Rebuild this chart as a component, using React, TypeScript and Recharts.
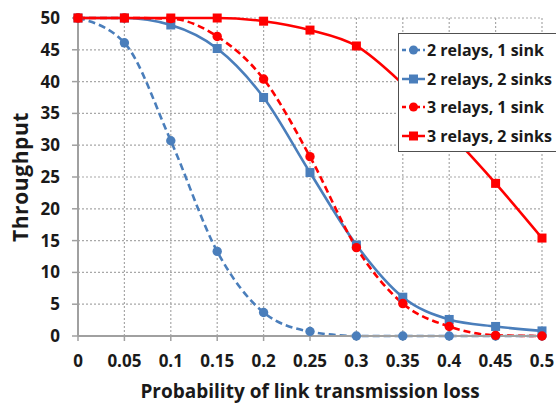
import React from "react";
import { LineChart, Line, XAxis, YAxis, CartesianGrid } from "recharts";

const lossProbability = [0, 0.05, 0.1, 0.15, 0.2, 0.25, 0.3, 0.35, 0.4, 0.45, 0.5];
const relays2sink1 = [50, 46.1, 30.7, 13.3, 3.7, 0.7, 0, 0, 0, 0, 0];
const relays2sink2 = [50, 50, 48.9, 45.2, 37.5, 25.7, 14.3, 6.1, 2.6, 1.5, 0.8];
const relays3sink1 = [50, 50, 49.9, 47.1, 40.4, 28.2, 13.9, 5.1, 1.5, 0.1, 0];
const relays3sink2 = [50, 50, 50, 50, 49.5, 48.1, 45.6, 39.6, 32.0, 24.0, 15.4];
const yTicks = [0, 5, 10, 15, 20, 25, 30, 35, 40, 45, 50];
const seriesNames = ["2 relays, 1 sink", "2 relays, 2 sinks", "3 relays, 1 sink", "3 relays, 2 sinks"];

const BLUE = "#4a7ebb";
const RED = "#ff0000";
const FONT = "'Open Sans', sans-serif";

const data = lossProbability.map((p, i) => ({
  p,
  a: relays2sink1[i],
  b: relays2sink2[i],
  c: relays3sink1[i],
  d: relays3sink2[i],
}));

const series = [
  { key: "a", name: seriesNames[0], color: BLUE, dashed: true, shape: "circle" },
  { key: "b", name: seriesNames[1], color: BLUE, dashed: false, shape: "square" },
  { key: "c", name: seriesNames[2], color: RED, dashed: true, shape: "circle" },
  { key: "d", name: seriesNames[3], color: RED, dashed: false, shape: "square" },
];

const makeDot = (color: string, shape: string) => (props: any) => {
  const { cx, cy, index } = props;
  if (cx == null || cy == null) return <g key={index} />;
  if (shape === "square") {
    return <rect key={index} x={cx - 4.5} y={cy - 4.5} width={9} height={9} fill={color} />;
  }
  return <circle key={index} cx={cx} cy={cy} r={4.7} fill={color} />;
};

const LegendBox = () => (
  <div
    style={{
      position: "absolute",
      left: 398,
      top: 33,
      boxSizing: "border-box",
      height: 119,
      background: "#fff",
      border: "1.5px solid #505050",
      padding: "2px 0 2px 3px",
      width: 200,
      fontFamily: FONT,
      fontWeight: 700,
      fontSize: 16,
      color: "#1a1a1a",
    }}
  >
    {series.map((s) => (
      <div key={s.key} style={{ display: "flex", alignItems: "center", height: 28.5, whiteSpace: "nowrap" }}>
        <svg width={23} height={12} style={{ marginRight: 2, flex: "none" }}>
          <line x1={0} y1={6} x2={23} y2={6} stroke={s.color} strokeWidth={2.5} strokeDasharray={s.dashed ? "4 3" : undefined} />
          {s.shape === "square" ? (
            <rect x={7} y={1.5} width={9} height={9} fill={s.color} />
          ) : (
            <circle cx={11.5} cy={6} r={4.5} fill={s.color} />
          )}
        </svg>
        <span>{s.name}</span>
      </div>
    ))}
  </div>
);

const YLabel = (props: any) => {
  const vb = props.viewBox || {};
  const x = vb.x + 28;
  const y = vb.y + vb.height / 2;
  return (
    <text
      x={x}
      y={y}
      transform={`rotate(-90, ${x}, ${y})`}
      textAnchor="middle"
      style={{ fontFamily: FONT, fontWeight: 700, fontSize: 21, letterSpacing: 0.6 }}
      fill="#1a1a1a"
    >
      Throughput
    </text>
  );
};

export default function App() {
  const tickStyle = { fontFamily: FONT, fontWeight: 700, fontSize: 17, fill: "#1a1a1a" };
  return (
    <div style={{ position: "absolute", left: 0, top: 0, width: 556, height: 404, overflow: "hidden", background: "#fff" }}>
      <LineChart width={556} height={404} data={data} margin={{ top: 18, right: 14, bottom: 0, left: 0 }}>
        <CartesianGrid stroke="#a8a8a8" strokeDasharray="2 2" strokeWidth={1.2} />
        <XAxis
          dataKey="p"
          type="number"
          domain={[0, 0.5]}
          ticks={lossProbability}
          tickFormatter={(v: number) => String(v)}
          height={68}
          tick={tickStyle}
          tickSize={5}
          tickMargin={14}
          stroke="#a0a0a0"
          strokeWidth={2}
          tickLine={{ stroke: "#a0a0a0", strokeWidth: 1.5 }}
          interval={0}
          label={{
            value: "Probability of link transmission loss",
            position: "insideBottom",
            offset: 6,
            style: { fontFamily: FONT, fontWeight: 700, fontSize: 19, fill: "#1a1a1a" },
          }}
        />
        <YAxis
          type="number"
          domain={[0, 50]}
          ticks={yTicks}
          width={78}
          tick={tickStyle}
          tickSize={6}
          tickMargin={12}
          stroke="#a0a0a0"
          strokeWidth={2}
          tickLine={{ stroke: "#a0a0a0", strokeWidth: 1.5 }}
          interval={0}
          label={<YLabel />}
        />
        {series.map((s) => (
          <Line
            key={s.key}
            dataKey={s.key}
            name={s.name}
            type="monotone"
            stroke={s.color}
            strokeWidth={2.6}
            strokeDasharray={s.dashed ? "7 4" : undefined}
            dot={makeDot(s.color, s.shape)}
            activeDot={false}
            isAnimationActive={false}
          />
        ))}
      </LineChart>
      <LegendBox />
    </div>
  );
}
